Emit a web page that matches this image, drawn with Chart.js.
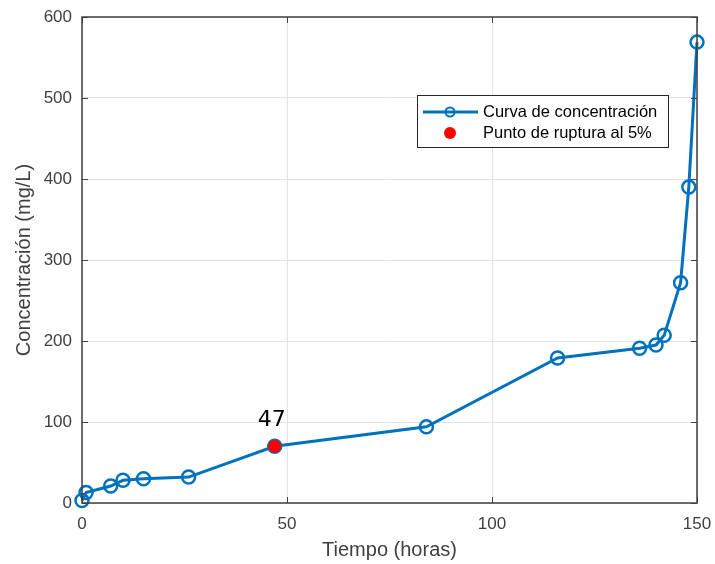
<!DOCTYPE html>
<html>
<head>
<meta charset="utf-8">
<script src="https://cdn.jsdelivr.net/npm/chart.js@4/dist/chart.umd.min.js"></script>
<style>
  html, body { margin: 0; padding: 0; background: #fff; }
  canvas { display: block; }
</style>
</head>
<body>
<canvas id="out" width="715" height="564"></canvas>
<script>
// datos
const tiempo = [0, 1, 7, 10, 15, 26, 47, 84, 116, 136, 140, 142, 146, 148, 150];
const concentracion = [3, 13, 21, 28, 30, 32, 70, 94, 179, 191, 195, 207, 272, 390, 569];
const puntoRuptura = [{ x: 47, y: 70 }];
const etiquetaRuptura = "47";
const xTicks = [0, 50, 100, 150];
const yTicks = [0, 100, 200, 300, 400, 500, 600];

const azul = "#0072BD";
const ejeColor = "#404040";
const fuente = "'Liberation Sans', Arial, sans-serif";

const boxPlugin = {
	id: "box",
	afterDraw(chart) {
		const ctx = chart.ctx;
		const a = chart.chartArea;
		const xs = chart.scales.x, ys = chart.scales.y;
		ctx.save();
		ctx.strokeStyle = ejeColor;
		ctx.lineWidth = 1.5;
		ctx.strokeRect(a.left, a.top, a.right - a.left, a.bottom - a.top);
		// marcas hacia dentro
		const len = 6;
		ctx.lineWidth = 1;
		ctx.beginPath();
		xTicks.forEach(v => {
			const px = Math.round(xs.getPixelForValue(v)) + 0.5;
			ctx.moveTo(px, a.bottom); ctx.lineTo(px, a.bottom - len);
			ctx.moveTo(px, a.top); ctx.lineTo(px, a.top + len);
		});
		yTicks.forEach(v => {
			const py = Math.round(ys.getPixelForValue(v)) + 0.5;
			ctx.moveTo(a.left, py); ctx.lineTo(a.left + len, py);
			ctx.moveTo(a.right, py); ctx.lineTo(a.right - len, py);
		});
		ctx.stroke();

		// etiqueta del punto de ruptura
		const meta = chart.getDatasetMeta(1);
		const p = meta.data[0];
		ctx.fillStyle = "#000";
		ctx.font = "22px 'DejaVu Sans', sans-serif";
		ctx.textAlign = "center";
		ctx.textBaseline = "bottom";
		ctx.fillText(etiquetaRuptura, p.x - 3, p.y - 15);

		// leyenda
		const lx = 417, ly = 95, lw = 251, lh = 52;
		ctx.fillStyle = "#fff";
		ctx.fillRect(lx, ly, lw, lh);
		ctx.strokeStyle = "#262626";
		ctx.lineWidth = 1;
		ctx.strokeRect(lx + 0.5, ly + 0.5, lw, lh);
		ctx.strokeStyle = azul;
		ctx.lineWidth = 3;
		ctx.beginPath();
		ctx.moveTo(lx + 6, ly + 17); ctx.lineTo(lx + 61, ly + 17);
		ctx.stroke();
		ctx.lineWidth = 2;
		ctx.beginPath();
		ctx.arc(lx + 33, ly + 17, 4.5, 0, Math.PI * 2);
		ctx.stroke();
		ctx.fillStyle = "#ff0000";
		ctx.beginPath();
		ctx.arc(lx + 33, ly + 38, 6, 0, Math.PI * 2);
		ctx.fill();
		ctx.fillStyle = "#000";
		ctx.font = "16.5px " + fuente;
		ctx.textAlign = "left";
		ctx.textBaseline = "middle";
		ctx.fillText("Curva de concentración", lx + 66, ly + 17);
		ctx.fillText("Punto de ruptura al 5%", lx + 66, ly + 38);
		ctx.restore();
	}
};

const chartConfig = {
	type: "line",
	data: {
		datasets: [
			{
				label: "Curva de concentración",
				data: tiempo.map((t, i) => ({ x: t, y: concentracion[i] })),
				borderColor: azul,
				backgroundColor: "rgba(0,0,0,0)",
				borderWidth: 3,
				pointRadius: 6.5,
				pointBorderWidth: 2.5,
				pointBorderColor: azul,
				pointBackgroundColor: "rgba(0,0,0,0)",
				tension: 0,
				clip: false,
				order: 1
			}, {
				label: "Punto de ruptura al 5%",
				data: puntoRuptura,
				showLine: false,
				pointRadius: 6.5,
				pointBorderWidth: 0,
				pointBackgroundColor: "#ff0000",
				pointBorderColor: "#ff0000",
				order: 0
			}
		]
	},
	options: {
		responsive: false,
		animation: false,
		layout: { padding: { top: 17, right: 18, left: 0, bottom: 0 } },
		plugins: {
			legend: { display: false },
			tooltip: { enabled: false }
		},
		scales: {
			x: {
				type: "linear",
				min: 0,
				max: 150,
				afterBuildTicks: s => { s.ticks = xTicks.map(v => ({ value: v })); },
				afterFit: s => { s.height = 61; s.paddingLeft = 0; s.paddingRight = 0; },
				grid: { color: "#e3e3e3", drawTicks: false },
				border: { display: false },
				ticks: { color: ejeColor, padding: 11, maxRotation: 0, font: { family: fuente, size: 17 } },
				title: {
					display: true,
					text: "Tiempo (horas)",
					color: ejeColor,
					font: { family: fuente, size: 20 },
					padding: { top: 0, bottom: 2 }
				}
			},
			y: {
				type: "linear",
				min: 0,
				max: 600,
				afterBuildTicks: s => { s.ticks = yTicks.map(v => ({ value: v })); },
				afterFit: s => { s.width = 82; s.paddingTop = 0; s.paddingBottom = 0; },
				grid: { color: "#e3e3e3", drawTicks: false },
				border: { display: false },
				ticks: { color: ejeColor, padding: 10, font: { family: fuente, size: 17 } },
				title: {
					display: true,
					text: "Concentración (mg/L)",
					color: ejeColor,
					font: { family: fuente, size: 20 },
					padding: { top: 12, bottom: 0 }
				}
			}
		}
	},
	plugins: [boxPlugin]
};

const canvasCtx = document.getElementById("out").getContext("2d");
window.chart = new Chart(canvasCtx, chartConfig);
</script>
</body>
</html>
